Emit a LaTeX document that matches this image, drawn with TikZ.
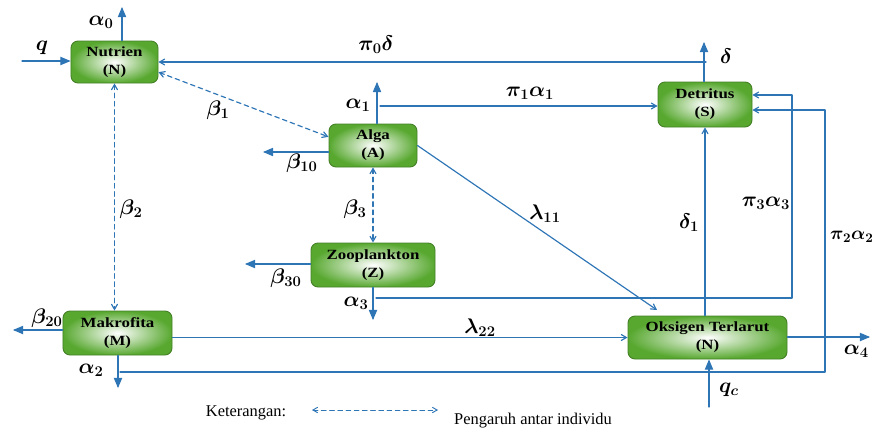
\RequirePackage{fix-cm}
\documentclass[tikz,border=0pt]{standalone}
\usepackage{amsmath,amssymb,bm}
\usepackage{fontspec}
\setmainfont{Liberation Serif}
\newfontface\boxfont[FakeStretch=1.2]{Liberation Serif Bold}
\usepackage{tikz}
\usetikzlibrary{arrows,positioning}
\definecolor{flowblue}{RGB}{46,117,182}
\definecolor{boxgreen}{RGB}{88,168,48}
\definecolor{boxedge}{RGB}{68,128,38}
\tikzset{
  box/.style={draw=boxedge,line width=0.8pt,rounded corners=6pt,inner color=white,outer color=boxgreen,
    align=center,font=\boxfont\fontsize{12}{15.5}\selectfont},
  outfl/.style={draw=flowblue,line width=1pt,-triangle 45},
  infl/.style={draw=flowblue,line width=1pt,-angle 60},
  dashfl/.style={draw=flowblue,line width=1pt,dash pattern=on 4pt off 3pt,angle 60-angle 60},
  lbl/.style={inner sep=0pt,font=\fontsize{18}{20}\selectfont},
  leg/.style={inner sep=0pt,font=\fontsize{14}{16}\selectfont}
}
\begin{document}
\begin{tikzpicture}[line cap=round,line join=round,x=0.03cm,y=-0.03cm]
            \useasboundingbox (0,0) rectangle (872,436);
            \node[box,minimum width=2.61cm,minimum height=1.26cm] (nut) at (114.5,62) {Nutrien\\(N)};
            \node[box,minimum width=2.64cm,minimum height=1.29cm] (alg) at (373,145.5) {Alga\\(A)};
            \node[box,minimum width=2.82cm,minimum height=1.35cm] (det) at (705,104.5) {Detritus\\(S)};
            \node[box,minimum width=3.72cm,minimum height=1.32cm] (zoo) at (373,265) {Zooplankton\\(Z)};
            \node[box,minimum width=3.27cm,minimum height=1.32cm] (mak) at (117.5,333) {Makrofita\\(M)};
            \node[box,minimum width=4.77cm,minimum height=1.29cm] (oks) at (707.5,337.5) {Oksigen Terlarut\\(N)};
            \coordinate (qin) at (22,61);
            \coordinate (a0) at (122,7);
            \coordinate (dl) at (704,42);
            \coordinate (p0) at (706,62);
            \coordinate (a1) at (377,82);
            \coordinate (p1) at (380,106);
            \coordinate (b10) at (263,152);
            \coordinate (l11) at (657,310);
            \coordinate (b30) at (245,264);
            \coordinate (a3) at (373,320);
            \coordinate (p3) at (376,298);
            \coordinate (p3r) at (792,95);
            \coordinate (b20) at (13,330);
            \coordinate (a2) at (118,388);
            \coordinate (p2) at (120,372);
            \coordinate (p2r) at (825,110);
            \coordinate (a4) at (870,337);
            \coordinate (qc) at (709,407);
            \draw[outfl] (qin) -- (qin -| nut.west);
            \draw[outfl] (a0 |- nut.north) -- (a0);
            \draw[outfl] (dl |- det.north) -- (dl);
            \draw[infl] (p0) -- (p0 -| nut.east);
            \draw[dashfl] (nut.-13) -- (alg.169);
            \draw[outfl] (a1 |- alg.north) -- (a1);
            \draw[infl] (p1) -- (p1 -| det.west);
            \draw[outfl] (b10 -| alg.west) -- (b10);
            \draw[dashfl] (alg.south) -- (zoo.north);
            \draw[infl] (alg.east) -- (l11);
            \draw[outfl] (b30 -| zoo.west) -- (b30);
            \draw[outfl] (zoo.south) -- (a3);
            \draw[infl] (p3) -| (p3r) -- (p3r -| det.east);
            \draw[outfl] (b20 -| mak.west) -- (b20);
            \draw[dashfl] (nut.south) -- (nut.south |- mak.north);
            \draw[infl] (oks.west -| mak.east) -- (oks.west);
            \draw[outfl] (a2 |- mak.south) -- (a2);
            \draw[infl] (p2) -| (p2r) -- (p2r -| det.east);
            \draw[infl] (det.south |- oks.north) -- (det.south);
            \draw[outfl] (a4 -| oks.east) -- (a4);
            \draw[outfl] (qc) -- (qc |- oks.south);
            \node[lbl] (lq) at (42,48) {$\bm{q}$};
            \node[lbl] (la0) at (101,22) {$\bm{\alpha_0}$};
            \node[lbl] (lp0) at (376,45) {$\bm{\pi_0\delta}$};
            \node[lbl] (ld) at (726,56) {$\bm{\delta}$};
            \node[lbl] (lb1) at (218,110) {$\bm{\beta_1}$};
            \node[lbl] (la1) at (358,105) {$\bm{\alpha_1}$};
            \node[lbl] (lp1) at (530,93) {$\bm{\pi_1\alpha_1}$};
            \node[lbl] (lb10) at (302,163) {$\bm{\beta_{10}}$};
            \node[lbl] (lb3) at (355,209) {$\bm{\beta_3}$};
            \node[lbl] (ll11) at (545,214) {$\bm{\lambda_{11}}$};
            \node[lbl] (lb2) at (131,209) {$\bm{\beta_2}$};
            \node[lbl] (lb30) at (286,278) {$\bm{\beta_{30}}$};
            \node[lbl] (la3) at (356,303) {$\bm{\alpha_3}$};
            \node[lbl] (lb20) at (47,318) {$\bm{\beta_{20}}$};
            \node[lbl] (la2) at (91,370) {$\bm{\alpha_2}$};
            \node[lbl] (ll22) at (480,328) {$\bm{\lambda_{22}}$};
            \node[lbl] (lp3) at (766,203) {$\bm{\pi_3\alpha_3}$};
            \node[lbl,anchor=west,font=\fontsize{16}{18}\selectfont] (lp2) at (830,237) {$\bm{\pi_2\alpha_2}$};
            \node[lbl] (ld1) at (689,223) {$\bm{\delta_1}$};
            \node[lbl,anchor=east] (la4) at (869,351) {$\bm{\alpha_4}$};
            \node[lbl] (lqc) at (729,390) {$\bm{q_c}$};
            \node[leg] (ket) at (246,413) {Keterangan:};
            \coordinate (lg1) at (312,410);
            \coordinate (lg2) at (438,410);
            \draw[dashfl,line width=0.8pt] (lg1) -- (lg2);
            \node[leg] (pga) at (533,421) {Pengaruh antar individu};
\end{tikzpicture}
\end{document}
